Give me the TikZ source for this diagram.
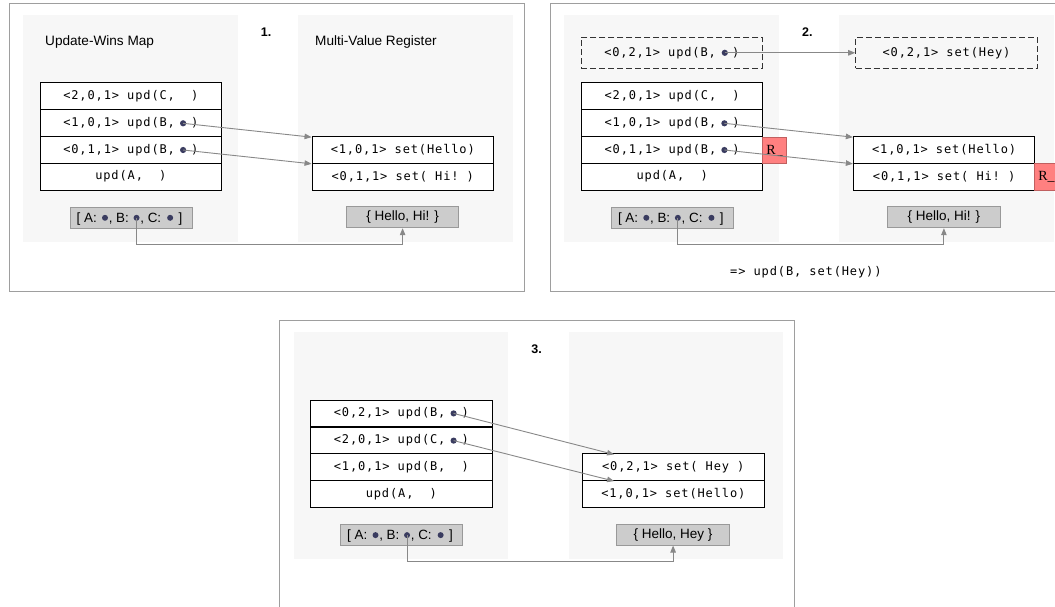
\documentclass[tikz,border=0pt]{standalone}
\usepackage{fontspec}
\setmainfont{Liberation Sans}
\newfontfamily\monof[LetterSpace=7.3]{DejaVu Sans Mono}
\newfontfamily\seriff{Liberation Serif}
\usetikzlibrary{arrows.meta,calc}
\definecolor{bgc}{HTML}{F7F7F7}
\definecolor{panelc}{HTML}{9E9E9E}
\definecolor{sumfill}{HTML}{CCCCCC}
\definecolor{sumdraw}{HTML}{999999}
\definecolor{dotc}{HTML}{3A3C60}
\definecolor{connc}{HTML}{888888}
\definecolor{dashc}{HTML}{333333}
\definecolor{redf}{HTML}{FF8080}
\definecolor{redd}{HTML}{C06060}
\newcommand\msp{\hspace*{8.1pt}}
\tikzset{
 panelline/.style={draw=panelc, line width=1pt},
 bgfill/.style={fill=bgc},
 rowbox/.style={draw=black, fill=white, line width=1pt, minimum width=181.5pt, minimum height=26.7pt, inner sep=0pt, font=\monof\fontsize{12}{14}\selectfont},
 dashbox/.style={rowbox, fill=none, draw=dashc, dash pattern=on 6pt off 3pt, minimum height=31pt},
 sumbox/.style={draw=sumdraw, fill=sumfill, line width=1pt, minimum height=21pt, inner sep=0pt, font=\fontsize{13.5}{15}\selectfont},
 sumtxt/.style={inner sep=0pt, font=\fontsize{13.4}{15}\selectfont},
 dotn/.style={circle, fill=dotc, minimum size=6.2pt, inner sep=0pt},
 mdotn/.style={circle, fill=dotc, minimum size=6pt, inner sep=0pt},
 conn/.style={draw=connc, line width=0.9pt, -{Triangle[length=7pt,width=5.5pt]}},
 titlet/.style={inner sep=0pt, font=\fontsize{13.6}{16}\selectfont},
 numlab/.style={inner sep=0pt, font=\bfseries\fontsize{12.5}{15}\selectfont},
 redbox/.style={draw=redd, fill=redf, line width=1pt, minimum width=24.4pt, minimum height=26.7pt, inner sep=0pt, font=\seriff\fontsize{14}{15}\selectfont},
 monot/.style={inner sep=0pt, font=\monof\fontsize{12}{14}\selectfont},
}
% map summary box: #1 name, #2 center
\newcommand\mapbox[2]{%
 \node[sumbox, minimum width=122.3pt] (#1) at (#2) {};
 \node[mdotn] (#1A) at ([xshift=-26.15pt]#1.center) {};
 \node[mdotn] (#1B) at ([xshift=5.4pt]#1.center) {};
 \node[mdotn] (#1C) at ([xshift=39pt]#1.center) {};
 \node[sumtxt, anchor=base west] (#1t1) at ([xshift=7pt,yshift=-4.8pt]#1.west) {[ A:};
 \node[sumtxt, anchor=base west] (#1t2) at ([xshift=3.6pt,yshift=-4.8pt]#1A.center) {, B:};
 \node[sumtxt, anchor=base west] (#1t3) at ([xshift=3.6pt,yshift=-4.8pt]#1B.center) {, C:};
 \node[sumtxt, anchor=base west] (#1t4) at ([xshift=4.5pt,yshift=-4.8pt]#1C.center) {\ ]};
}
\begin{document}
\begin{tikzpicture}[x=1pt,y=-1pt]
\useasboundingbox (0,0) rectangle (1055,606);
\fill[white] (0,0) rectangle (1055,606);

% ================= Panel 1 =================
\draw[panelline] (9.3,3.3) rectangle (524.3,291);
\fill[bgfill] (23,15) rectangle (237.8,241.7);
\fill[bgfill] (298,15) rectangle (512.8,241.7);
\node[titlet, anchor=base west] (p1title1) at (45,45.7) {Update-Wins Map};
\node[titlet, anchor=base west] (p1title2) at (315,45.7) {Multi-Value Register};
\node[numlab, anchor=base west] (p1num) at (260.7,36) {1.};
\node[rowbox] (p1l1) at (130.85,96.1) {<2,0,1>\msp upd(C,\msp\msp )};
\node[rowbox] (p1l2) at (130.85,123.3) {<1,0,1>\msp upd(B,\msp\msp )};
\node[rowbox] (p1l3) at (130.85,150.0) {<0,1,1>\msp upd(B,\msp\msp )};
\node[rowbox] (p1l4) at (130.85,176.65) {upd(A,\msp\msp )};
\node[rowbox] (p1r1) at (402.8,150.0) {<1,0,1>\msp set(Hello)};
\node[rowbox] (p1r2) at (402.8,176.65) {<0,1,1>\msp set(\msp Hi!\msp )};
\node[dotn] (p1d2) at (183.1,123.3) {};
\node[dotn] (p1d3) at (183.1,150.0) {};
\draw[conn] (p1d2.center) -- ([yshift=-1pt]p1r1.north west);
\draw[conn] (p1d3.center) -- ([yshift=-1pt]p1r2.north west);
\mapbox{p1map}{131.15,217.8}
\node[sumbox, minimum width=112.3pt] (p1hello) at (402.6,217.2) {\{ Hello, Hi! \}};
\coordinate (p1low) at (0,244.3);
\draw[conn] (p1mapB.center) -- (p1mapB.center |- p1low) -| (p1hello.south);

% ================= Panel 2 =================
\draw[panelline] (550.6,3.3) rectangle (1065.6,291);
\fill[bgfill] (564.3,15) rectangle (779.1,241.7);
\fill[bgfill] (839.3,15) rectangle (1054.1,241.7);
\node[numlab, anchor=base west] (p2num) at (802,36) {2.};
\node[dashbox, minimum width=181pt] (p2dl) at (671.8,52.8) {<0,2,1>\msp upd(B,\msp\msp )};
\node[dashbox, minimum width=181.6pt] (p2dr) at (946.5,52.8) {<0,2,1>\msp set(Hey)};
\node[rowbox] (p2l1) at (672.15,96.1) {<2,0,1>\msp upd(C,\msp\msp )};
\node[rowbox] (p2l2) at (672.15,123.3) {<1,0,1>\msp upd(B,\msp\msp )};
\node[rowbox] (p2l3) at (672.15,150.0) {<0,1,1>\msp upd(B,\msp\msp )};
\node[rowbox] (p2l4) at (672.15,176.65) {upd(A,\msp\msp )};
\node[rowbox] (p2r1) at (944.1,150.0) {<1,0,1>\msp set(Hello)};
\node[rowbox] (p2r2) at (944.1,176.65) {<0,1,1>\msp set(\msp Hi!\msp )};
\node[redbox] (p2red1) at (774.5,150.4) {R\_};
\node[redbox] (p2red2) at (1046.5,176.65) {R\_};
\node[dotn] (p2d0) at (724.8,52.8) {};
\node[dotn] (p2d2) at (724.4,123.3) {};
\node[dotn] (p2d3) at (724.4,150.0) {};
\draw[conn] (p2d0.center) -- (p2dr.west);
\draw[conn] (p2d2.center) -- ([yshift=-1pt]p2r1.north west);
\draw[conn] (p2d3.center) -- ([yshift=-1pt]p2r2.north west);
\mapbox{p2map}{672.45,217.8}
\node[sumbox, minimum width=112.3pt] (p2hello) at (943.9,217.2) {\{ Hello, Hi! \}};
\coordinate (p2low) at (0,244.3);
\draw[conn] (p2mapB.center) -- (p2mapB.center |- p2low) -| (p2hello.south);
\node[monot, anchor=west] (p2res) at (730,272.3) {=>\msp upd(B,\msp set(Hey))};

% ================= Panel 3 =================
\draw[panelline] (279.8,320.6) rectangle (794.8,608.3);
\fill[bgfill] (293.5,332.3) rectangle (508.3,559);
\fill[bgfill] (568.5,332.3) rectangle (783.3,559);
\node[numlab, anchor=base west] (p3num) at (531.2,353.3) {3.};
\node[rowbox] (p3l1) at (401.35,413.4) {<0,2,1>\msp upd(B,\msp\msp )};
\node[rowbox] (p3l2) at (401.35,440.6) {<2,0,1>\msp upd(C,\msp\msp )};
\node[rowbox] (p3l3) at (401.35,467.3) {<1,0,1>\msp upd(B,\msp\msp )};
\node[rowbox] (p3l4) at (401.35,493.95) {upd(A,\msp\msp )};
\node[rowbox] (p3r1) at (673.3,467.3) {<0,2,1>\msp set(\msp Hey\msp )};
\node[rowbox] (p3r2) at (673.3,493.95) {<1,0,1>\msp set(Hello)};
\node[dotn] (p3d1) at (453.6,413.4) {};
\node[dotn] (p3d2) at (453.6,440.6) {};
\draw[conn] (p3d1.center) -- ([xshift=32pt,yshift=-1pt]p3r1.north west);
\draw[conn] (p3d2.center) -- ([xshift=32pt,yshift=-1pt]p3r2.north west);
\mapbox{p3map}{401.65,535.1}
\node[sumbox, minimum width=112.3pt] (p3hello) at (673.1,534.5) {\{ Hello, Hey \}};
\coordinate (p3low) at (0,561.6);
\draw[conn] (p3mapB.center) -- (p3mapB.center |- p3low) -| (p3hello.south);
\end{tikzpicture}
\end{document}
